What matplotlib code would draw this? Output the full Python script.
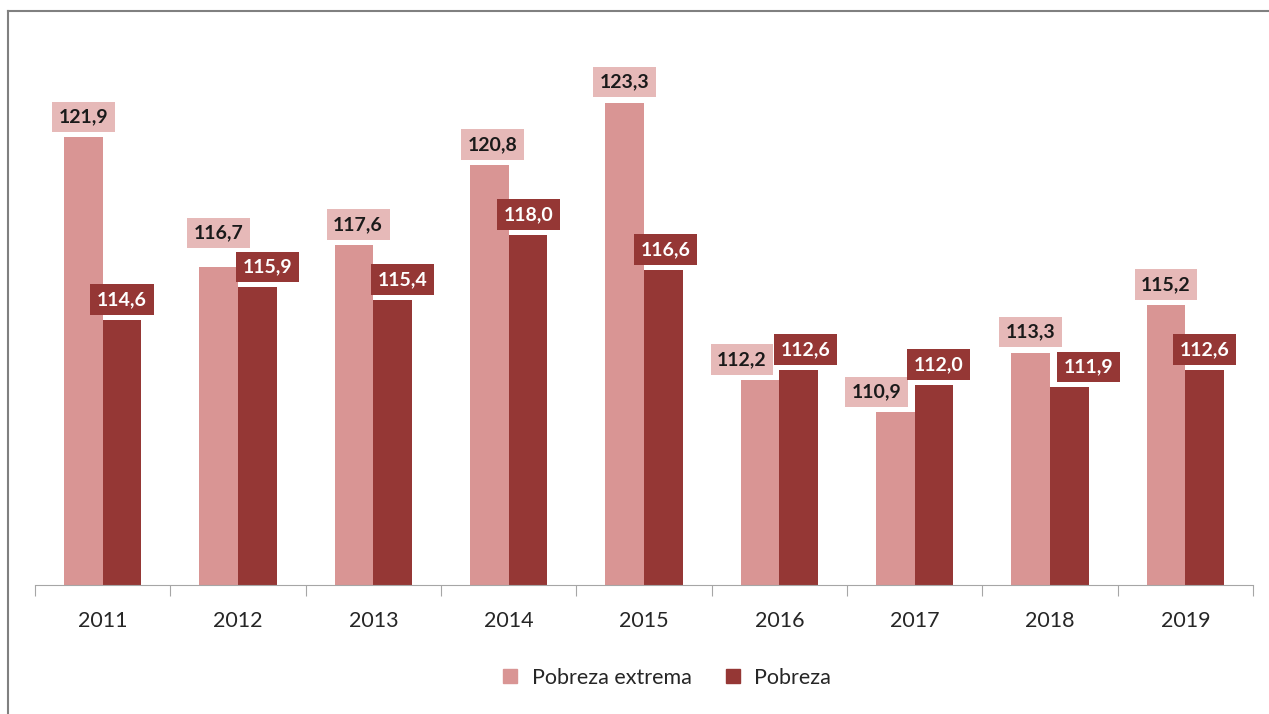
import numpy as np
import matplotlib
matplotlib.use("Agg")
from matplotlib import pyplot as plt
from matplotlib.lines import Line2D

plt.rcParams['font.family'] = ['Lato', 'DejaVu Sans']

years = ['2011', '2012', '2013', '2014', '2015', '2016', '2017', '2018', '2019']
pobreza_extrema = [121.9, 116.7, 117.6, 120.8, 123.3, 112.2, 110.9, 113.3, 115.2]
pobreza = [114.6, 115.9, 115.4, 118.0, 116.6, 112.6, 112.0, 111.9, 112.6]

# shift of the data labels (px), as placed in the original
ext_dx = [0, 0, 4, 3, 0, -18, -19, 0, 0]
ext_dy = [0, 14, 0, 0, 0, 0, 0, 0, 0]
pob_dx = [0, 10, 10, 1, 2, 7, 5, 19, 0]

c_ext = '#D99594'
c_pob = '#953735'
c_ext_box = '#E6B9B8'

fig = plt.figure(figsize=(12.69, 7.14), dpi=100)
ax = fig.add_axes([35 / 1269, 1 - 585 / 714, (1253 - 35) / 1269, (585 - 35) / 714])

x = np.arange(len(years))
w = 0.285
ax.bar(x - w / 2, np.array(pobreza_extrema) - 104, w, bottom=104, color=c_ext)
ax.bar(x + w / 2, np.array(pobreza) - 104, w, bottom=104, color=c_pob)

ax.set_xlim(-0.5, len(years) - 0.5)
ax.set_ylim(104, 126)

def fmt(v):
    return f'{v:.1f}'.replace('.', ',')

px = 0.72  # points per pixel at 100 dpi
for xi, v, dx, dy in zip(x, pobreza_extrema, ext_dx, ext_dy):
    ax.annotate(fmt(v), (xi - w / 2, v), xytext=(dx * px, (12 + dy) * px), textcoords='offset points',
                ha='center', va='bottom', fontsize=14, fontweight='bold', color='#1a1a1a',
                bbox=dict(boxstyle='square,pad=0.34', fc=c_ext_box, ec='none'))
for xi, v, dx in zip(x, pobreza, pob_dx):
    ax.annotate(fmt(v), (xi + w / 2, v), xytext=(dx * px, 12 * px), textcoords='offset points',
                ha='center', va='bottom', fontsize=14, fontweight='bold', color='white',
                bbox=dict(boxstyle='square,pad=0.34', fc=c_pob, ec='none'))

for s in ['top', 'right', 'left']:
    ax.spines[s].set_visible(False)
ax.spines['bottom'].set_color('#a6a6a6')
ax.set_yticks([])
ax.set_xticks(np.arange(-0.5, len(years)), minor=False)
ax.set_xticklabels([])
ax.tick_params(axis='x', which='major', length=8, color='#a6a6a6')
ax.set_xticks(x, minor=True)
ax.set_xticklabels(years, minor=True)
ax.tick_params(axis='x', which='minor', length=0, pad=19, labelsize=15.5, labelcolor='#262626')

handles = [Line2D([], [], marker='s', ls='none', color=c_ext, markersize=10),
           Line2D([], [], marker='s', ls='none', color=c_pob, markersize=10)]
fig.legend(handles, ['Pobreza extrema', 'Pobreza'], loc='center', bbox_to_anchor=(660 / 1269, 1 - 678 / 714),
           ncol=2, frameon=False, fontsize=15.5, handletextpad=0.0, columnspacing=0.9,
           labelcolor='#262626')

# outer frame (top and left visible)
fig.add_artist(Line2D([8 / 1269, 8 / 1269], [0, 1 - 11 / 714], transform=fig.transFigure, color='#808080', lw=1.5))
fig.add_artist(Line2D([8 / 1269, 1], [1 - 11 / 714, 1 - 11 / 714], transform=fig.transFigure, color='#808080', lw=1.5))

fig.savefig('out.png', dpi=100)
